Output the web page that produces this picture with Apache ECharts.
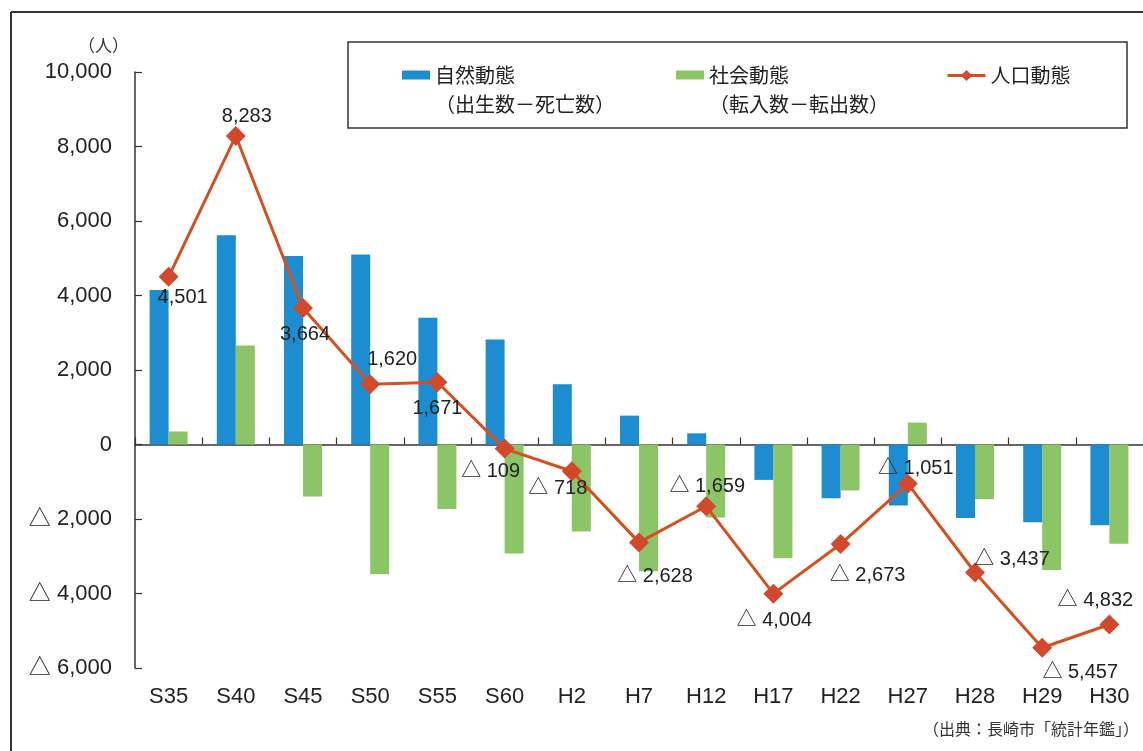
<!DOCTYPE html>
<html>
<head>
<meta charset="utf-8">
<script src="https://cdn.jsdelivr.net/npm/echarts@6/dist/echarts.min.js"></script>
<style>
html,body{margin:0;padding:0;background:#fff;}
#chart{width:1143px;height:751px;}
</style>
</head>
<body>
<div id="chart"></div>
<script>
// ---- data ----
const categories = ['S35','S40','S45','S50','S55','S60','H2','H7','H12','H17','H22','H27','H28','H29','H30'];
const naturalChange = [4150, 5620, 5060, 5100, 3400, 2820, 1620, 775, 300, -950, -1440, -1640, -1970, -2085, -2170];
const socialChange  = [350, 2660, -1396, -3480, -1729, -2929, -2338, -3403, -1959, -3054, -1233, 589, -1467, -3372, -2662];
const populationChange = [4501, 8283, 3664, 1620, 1671, -109, -718, -2628, -1659, -4004, -2673, -1051, -3437, -5457, -4832];
const yTicks = {min: -6000, max: 10000, interval: 2000};
const seriesNames = ['自然動態', '社会動態', '人口動態'];
const legendSubtitles = ['（出生数－死亡数）', '（転入数－転出数）'];
const unitLabel = '（人）';
const sourceNote = '（出典：長崎市「統計年鑑」）';

// label placement (style only)
const labelOffsets = [[14,21],[11,-19],[2,26],[22,-25],[0,26],[-14,23],[-14,17],[16,34],[1,-20],[1,27],[27,31],[8,-15],[37,-13],[38,25],[-14,-24]];

const FONT = "'Liberation Sans','Noto Sans CJK JP',sans-serif";
const JFONT = "'Noto Sans CJK JP','Liberation Sans',sans-serif";

function fmt(v){
  const s = Math.abs(v).toLocaleString('en-US');
  return v < 0 ? '△ ' + s : s;
}

const chart = echarts.init(document.getElementById('chart'), null, {renderer:'canvas'});

const blue = '#1b8dd0', green = '#8bc565', orange = '#d4511f';

const barLegendText = {fontFamily: JFONT, color: '#222', rich: {e: {lineHeight: 29, fontSize: 20}, t: {fontSize: 20, lineHeight: 29, fontFamily: JFONT, color: '#222'}}};

const option = {
  backgroundColor: '#ffffff',
  animation: false,
  textStyle: {fontFamily: FONT},
  title: {
    text: sourceNote, left: 918, top: 716,
    textStyle: {fontSize: 16, fontWeight: 'normal', color: '#333', fontFamily: JFONT}
  },
  legend: [
    {
      data: [seriesNames[0]], left: 402, top: 36, padding: 0,
      icon: 'rect', itemWidth: 28, itemHeight: 9,
      formatter: n => '{e| }\n{t|' + n + '}\n{t|' + legendSubtitles[0] + '}',
      textStyle: barLegendText
    },
    {
      data: [seriesNames[1]], left: 676, top: 36, padding: 0,
      icon: 'rect', itemWidth: 28, itemHeight: 9,
      formatter: n => '{e| }\n{t|' + n + '}\n{t|' + legendSubtitles[1] + '}',
      textStyle: barLegendText
    },
    {
      data: [seriesNames[2]], left: 946, top: 61, padding: 0,
      itemWidth: 38, itemHeight: 14,
      lineStyle: {width: 3},
      textStyle: {fontFamily: JFONT, color: '#222', fontSize: 20, lineHeight: 29}
    }
  ],
  grid: {left: 135, top: 72, width: 1010, height: 596, containLabel: false},
  xAxis: [
    {
      type: 'category', data: categories,
      axisLine: {onZero: true, lineStyle: {color: '#333', width: 1.5}},
      axisTick: {show: true, inside: true, length: 7, lineStyle: {color: '#333', width: 1.2}},
      axisLabel: {show: false}
    },
    {
      type: 'category', data: categories, position: 'bottom',
      axisLine: {show: false, onZero: false},
      axisTick: {show: false},
      axisLabel: {show: true, fontSize: 22, color: '#222', margin: 18, fontFamily: FONT}
    }
  ],
  yAxis: {
    type: 'value', min: yTicks.min, max: yTicks.max, interval: yTicks.interval,
    name: unitLabel, nameLocation: 'end', nameGap: 18,
    nameTextStyle: {fontSize: 17, color: '#333', fontFamily: JFONT, align: 'right', padding: [0, 6, 0, 0]},
    axisLine: {show: true, lineStyle: {color: '#333', width: 1.5}},
    axisTick: {show: true, inside: true, length: 7, lineStyle: {color: '#333', width: 1.2}},
    splitLine: {show: false},
    axisLabel: {fontSize: 22, color: '#222', margin: 23, fontFamily: FONT, formatter: v => fmt(v)}
  },
  graphic: [
    {type: 'line', shape: {x1: 11, y1: 12, x2: 1143, y2: 12}, style: {stroke: '#333', lineWidth: 2}, z: 1},
    {type: 'line', shape: {x1: 11, y1: 12, x2: 11, y2: 751}, style: {stroke: '#333', lineWidth: 2}, z: 1},
    {type: 'rect', shape: {x: 348, y: 42, width: 779, height: 86}, style: {fill: 'none', stroke: '#333', lineWidth: 1.5}, z: 1}
  ],
  series: [
    {
      name: seriesNames[0], type: 'bar', data: naturalChange,
      barWidth: 19, barGap: '0%', itemStyle: {color: blue}, z: 2
    },
    {
      name: seriesNames[1], type: 'bar', data: socialChange,
      barWidth: 19, barGap: '0%', itemStyle: {color: green}, z: 2
    },
    {
      name: seriesNames[2], type: 'line',
      data: populationChange.map((v, i) => ({value: v, label: {offset: labelOffsets[i]}})),
      symbol: 'diamond', symbolSize: 20,
      lineStyle: {color: orange, width: 3},
      itemStyle: {color: '#d3482a'},
      z: 5,
      label: {
        show: true, position: 'inside', fontSize: 20, color: '#222', fontFamily: FONT,
        formatter: p => fmt(p.value)
      }
    }
  ]
};
chart.setOption(option);
</script>
</body>
</html>
